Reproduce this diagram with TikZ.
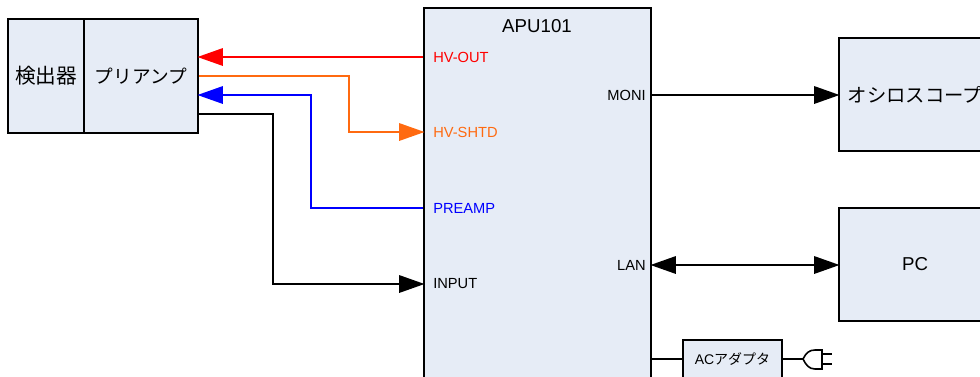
\documentclass[tikz,border=0pt]{standalone}
\usepackage{fontspec}
\setmainfont{Liberation Sans}
\newfontfamily\cjk{Noto Sans CJK JP}
\usetikzlibrary{arrows.meta}
\definecolor{boxfill}{HTML}{E6ECF6}
\definecolor{shtd}{HTML}{FF6A10}
\tikzset{unit/.style={rectangle,draw=black,fill=boxfill,line width=1.2pt,inner sep=0pt,font=\fontsize{14}{16}\selectfont}}
\tikzset{port/.style={inner sep=0pt,font=\fontsize{11}{13}\selectfont}}
\tikzset{sig/.style={line width=1.5pt,shorten >=-1pt,-{Triangle[length=19pt,width=13pt]}}}
\tikzset{sigboth/.style={line width=1.5pt,shorten >=-1pt,shorten <=-1pt,{Triangle[length=19pt,width=13pt]}-{Triangle[length=19pt,width=13pt]}}}
\begin{document}
\begin{tikzpicture}[x=0.75pt,y=-0.75pt]
\useasboundingbox (0,0) rectangle (980,376);
\node (det) at (46,76) [unit,minimum width=57pt,minimum height=85.5pt] {\fontsize{15.5}{17}\selectfont\cjk 検出器};
\node (preamp) at (141,76) [unit,minimum width=85.5pt,minimum height=85.5pt] {\cjk プリアンプ};
\node (apu) at (537.5,208) [unit,minimum width=170.25pt,minimum height=300pt] {};
\node (apuname) at (537,26) [inner sep=0pt,font=\fontsize{14}{16}\selectfont] {APU101};
\node (osc) at (915,94.5) [unit,minimum width=114pt,minimum height=84.75pt] {\fontsize{14.5}{16}\selectfont\cjk オシロスコープ};
\node (pc) at (915,264.5) [unit,minimum width=114pt,minimum height=84.75pt] {PC};
\node (adapter) at (732.5,359) [unit,minimum width=74.25pt,minimum height=28.5pt,font=\fontsize{10.5}{12}\selectfont] {AC{\cjk アダプタ}};
% ports
\node (hvout) at (433,57) [port,anchor=west,text=red] {HV-OUT};
\node (hvshtd) at (433,132) [port,anchor=west,text=shtd] {HV-SHTD};
\node (preport) at (433,208) [port,anchor=west,text=blue] {PREAMP};
\node (input) at (433,284) [port,anchor=west] {INPUT};
\node (moni) at (646,95) [port,anchor=east] {MONI};
\node (lan) at (646,265) [port,anchor=east] {LAN};
% turning points
\coordinate (shtdturn) at (349,132);
\coordinate (blueturn) at (311,95);
\coordinate (inturn) at (273,114);
\coordinate (plug) at (803,359);
% signals
\draw[sig,red] (apu.west |- hvout) -- (preamp.east |- hvout);
\draw[sig,shtd] (preamp.east) -| (shtdturn) -- (apu.west |- hvshtd);
\draw[sig,blue] (apu.west |- preport) -| (blueturn) -- (preamp.east |- blueturn);
\draw[sig] (preamp.east |- inturn) -- (inturn) |- (apu.west |- input);
\draw[sig] (apu.east |- moni) -- (osc.west |- moni);
\draw[sigboth] (apu.east |- lan) -- (pc.west |- lan);
\draw[line width=1.2pt] (apu.east |- adapter) -- (adapter.west);
\draw[line width=1.2pt] (adapter.east) -- (plug);
% plug
\draw[line width=1.2pt] (plug) .. controls (806,353) and (809,350) .. (815,350) -- (822,350) -- (822,369) -- (815,369) .. controls (809,369) and (806,365) .. (plug);
\draw[line width=1.2pt] (822,354)--(832,354) (822,364)--(832,364);
\end{tikzpicture}
\end{document}
